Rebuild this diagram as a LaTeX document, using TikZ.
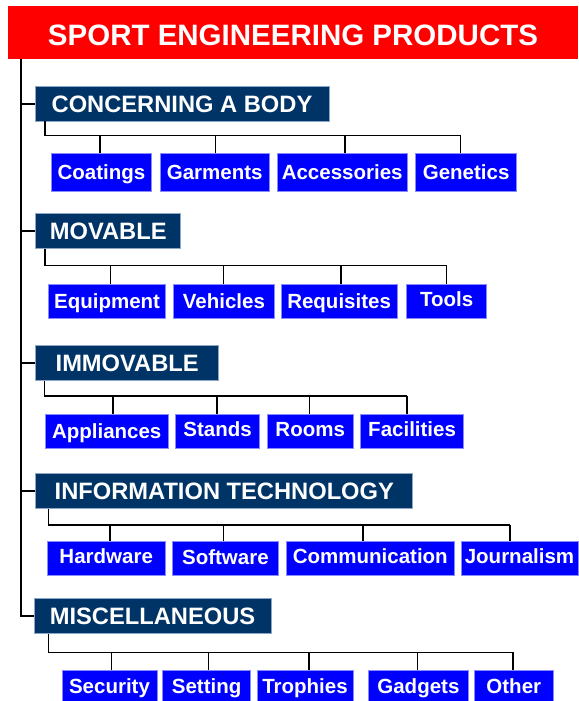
\documentclass[tikz,border=0pt]{standalone}
\usepackage{fontspec}
\setmainfont{Liberation Sans}
\definecolor{titlered}{HTML}{FF0000}
\definecolor{navy}{HTML}{003466}
\definecolor{navyedge}{HTML}{8EA6C6}
\definecolor{childblue}{HTML}{0000FF}
\definecolor{childedge}{HTML}{8A8AFF}
\begin{document}
\begin{tikzpicture}[x=1pt,y=-1pt,
  titlebox/.style={fill=titlered,inner sep=0pt,text=white,
    font=\fontsize{29.5}{30}\selectfont\bfseries,text height=26.7pt,text depth=0pt},
  catbox/.style={fill=navy,draw=navyedge,line width=0.8pt,inner sep=0pt,text=white,
    font=\fontsize{23.7}{24}\selectfont\bfseries,text height=17pt,text depth=0pt,
    minimum height=35pt},
  childbox/.style={fill=childblue,draw=childedge,line width=0.8pt,inner sep=0pt,text=white,
    font=\fontsize{20.5}{21}\selectfont\bfseries,text height=14.7pt,text depth=0pt,
    minimum height=34.4pt},
  txtup/.style={text depth=#1},
  trunk/.style={line width=2pt,draw=black},
  sub/.style={line width=1.5pt,draw=black}]
\useasboundingbox (0,0) rectangle (578,701);

% title
\node[titlebox,minimum width=570pt,minimum height=53pt] (title) at (293,32.5) {SPORT ENGINEERING PRODUCTS};

% categories
\node[catbox,minimum width=294pt] (l1) at (182,103.5) {CONCERNING A BODY};
\node[catbox,minimum width=144.8pt] (l2) at (108.2,230.8) {MOVABLE};
\node[catbox,minimum width=182.8pt] (l3) at (127.2,363.2) {IMMOVABLE};
\node[catbox,minimum width=377pt,minimum height=35.4pt] (l4) at (224.3,491) {INFORMATION TECHNOLOGY};
\node[catbox,minimum width=237pt] (l5) at (152.5,616.2) {MISCELLANEOUS};

% group 1
\node[childbox,minimum width=99.5pt,minimum height=38.4pt] (c11) at (101.4,172.5) {Coatings};
\node[childbox,minimum width=108.8pt,minimum height=38.4pt] (c12) at (214.7,172.5) {Garments};
\node[childbox,minimum width=130pt,minimum height=38.4pt] (c13) at (342.2,172.5) {Accessories};
\node[childbox,minimum width=101.4pt,minimum height=38.4pt] (c14) at (466.1,172.5) {Genetics};

% group 2
\node[childbox,minimum width=116.8pt] (c21) at (107.1,301.2) {Equipment};
\node[childbox,minimum width=101.4pt] (c22) at (223.9,301.2) {Vehicles};
\node[childbox,minimum width=115.8pt] (c23) at (339.1,301.2) {Requisites};
\node[childbox,minimum width=80pt,txtup=4pt] (c24) at (446.6,301.2) {Tools};

% group 3
\node[childbox,minimum width=123.4pt,txtup=1pt] (c31) at (106.7,431.2) {Appliances};
\node[childbox,minimum width=83.7pt,txtup=4pt] (c32) at (217.6,431.2) {Stands};
\node[childbox,minimum width=85.9pt,txtup=4pt] (c33) at (310.2,431.2) {Rooms};
\node[childbox,minimum width=103.2pt,txtup=4pt] (c34) at (412.1,431.2) {Facilities};

% group 4
\node[childbox,minimum width=118pt,txtup=5pt] (c41) at (106.2,558.5) {Hardware};
\node[childbox,minimum width=106.5pt,txtup=2pt] (c42) at (225.4,558.5) {Software};
\node[childbox,minimum width=167.7pt,txtup=5pt] (c43) at (370.3,558.5) {Communication};
\node[childbox,minimum width=116.9pt,txtup=5pt] (c44) at (519.5,558.5) {Journalism};

% group 5
\node[childbox,minimum width=95.1pt,txtup=4pt] (c51) at (109.5,687.9) {Security};
\node[childbox,minimum width=88.1pt,txtup=4pt] (c52) at (206.6,687.9) {Setting};
\node[childbox,minimum width=96.2pt,txtup=3pt] (c53) at (305,687.9) {Trophies};
\node[childbox,minimum width=99.5pt,txtup=4pt] (c54) at (418.4,687.9) {Gadgets};
\node[childbox,minimum width=79.6pt,txtup=4pt] (c55) at (513.8,687.9) {Other};

% trunk
\coordinate (tk) at (20.5,0);
\draw[trunk] (title.south -| tk) -- (l5.west -| tk) -- (l5.west);
\foreach \n in {l1,l2,l3,l4}{\draw[trunk] (\n.west -| tk) -- (\n.west);}

% buses
\coordinate (b1) at (45,135.7);
\coordinate (b2) at (45,265.7);
\coordinate (b3) at (44.6,396);
\coordinate (b4) at (48.3,525);
\coordinate (b5) at (48.3,652.3);

\draw[sub] (l1.south -| b1) -- (b1) -- ([xshift=-5.4pt]c14.north |- b1);
\draw[sub] (l2.south -| b2) -- (b2) -- ([xshift=0.1pt]c24.north |- b2);
\draw[sub] (l3.south -| b3) -- (b3) -- ([xshift=-5.2pt]c34.north |- b3);
\draw[sub] (l4.south -| b4) -- (b4) -- ([xshift=-9.4pt]c44.north |- b4);
\draw[sub] (l5.south -| b5) -- (b5) -- ([xshift=-0.7pt]c55.north |- b5);

% drops
\foreach \c/\d/\b in {c11/-1.5/b1,c12/0.6/b1,c13/2.8/b1,c14/-5.4/b1,
  c21/3.5/b2,c22/-0.5/b2,c23/1.9/b2,c24/0.1/b2,
  c31/6.1/b3,c32/-0.5/b3,c33/-0.9/b3,c34/-5.2/b3,
  c41/3.6/b4,c42/-2/b4,c43/-7.2/b4,c44/-9.4/b4,
  c51/1.8/b5,c52/2/b5,c53/3.9/b5,c54/-0.8/b5,c55/-0.7/b5}{
  \draw[sub] ([xshift=\d pt]\c.north) -- ([xshift=\d pt]\c.north |- \b);
}
\end{tikzpicture}
\end{document}
